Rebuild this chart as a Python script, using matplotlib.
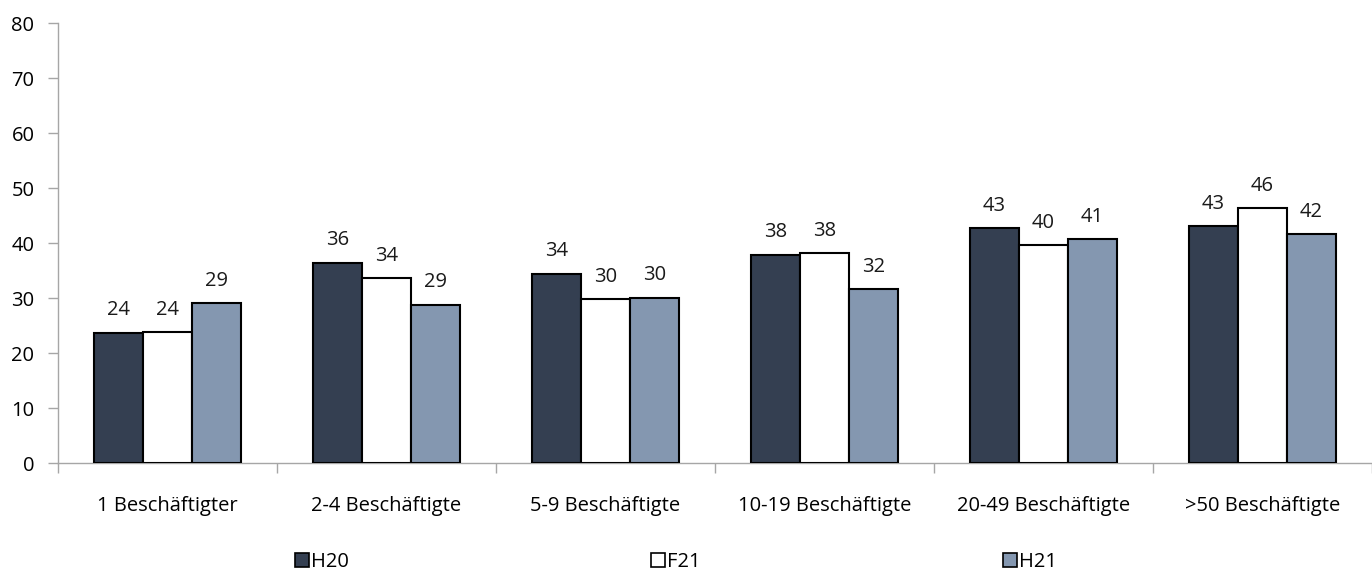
import matplotlib
matplotlib.use("Agg")
import matplotlib.pyplot as plt
import numpy as np
from matplotlib.patches import Patch

plt.rcParams['font.family'] = ['Open Sans', 'DejaVu Sans']

categories = ["1 Beschäftigter", "2-4 Beschäftigte", "5-9 Beschäftigte",
              "10-19 Beschäftigte", "20-49 Beschäftigte", ">50 Beschäftigte"]
series_names = ["H20", "F21", "H21"]
h20 = [23.7, 36.4, 34.4, 37.9, 42.7, 43.1]
f21 = [23.8, 33.6, 29.8, 38.1, 39.6, 46.3]
h21 = [29.1, 28.8, 30.1, 31.6, 40.7, 41.6]
yticks = [0, 10, 20, 30, 40, 50, 60, 70, 80]

colors = ["#343f51", "#ffffff", "#8497b0"]
axis_grey = "#a6a6a6"
fs = 14.5

fig = plt.figure(figsize=(13.72, 5.71), dpi=100)
ax = fig.add_axes([0.0423, 0.189, 0.9577, 0.7707])

x = np.arange(len(categories))
width = 0.224
for i, (vals, col) in enumerate(zip([h20, f21, h21], colors)):
    pos = x + (i - 1) * width
    ax.bar(pos, vals, width=width, color=col, edgecolor="black",
           linewidth=1.5, zorder=3)
    for xp, v in zip(pos, vals):
        ax.annotate(f"{v:.0f}", (xp, v), xytext=(0, 12.5), textcoords="offset points",
                    ha="center", va="baseline", fontsize=fs, color="#1a1a1a")

ax.set_xlim(-0.5, len(categories) - 0.5)
ax.set_ylim(0, 80)
ax.set_yticks(yticks)
ax.set_yticklabels([str(t) for t in yticks], fontsize=fs)

# category labels centred, boundary ticks between groups
ax.set_xticks(np.arange(-0.5, len(categories), 1.0))
ax.set_xticklabels([])
ax.set_xticks(x, minor=True)
ax.set_xticklabels(categories, minor=True, fontsize=fs)
ax.tick_params(axis="x", which="minor", length=0, pad=24)
ax.tick_params(axis="x", which="major", length=7, color=axis_grey, width=1)
ax.tick_params(axis="y", length=7, color=axis_grey, width=1, pad=10)

for s in ["top", "right"]:
    ax.spines[s].set_visible(False)
for s in ["left", "bottom"]:
    ax.spines[s].set_color(axis_grey)
    ax.spines[s].set_linewidth(1)

handles = [Patch(facecolor=c, edgecolor="black", linewidth=1.2) for c in colors]
fig.legend(handles, series_names, loc="center left", bbox_to_anchor=(0.215, 0.016),
           ncol=3, frameon=False, fontsize=fs, handlelength=0.7, handleheight=0.7,
           handletextpad=0.1, columnspacing=15.0, borderpad=0, borderaxespad=0)

fig.savefig("out.png", dpi=100)
